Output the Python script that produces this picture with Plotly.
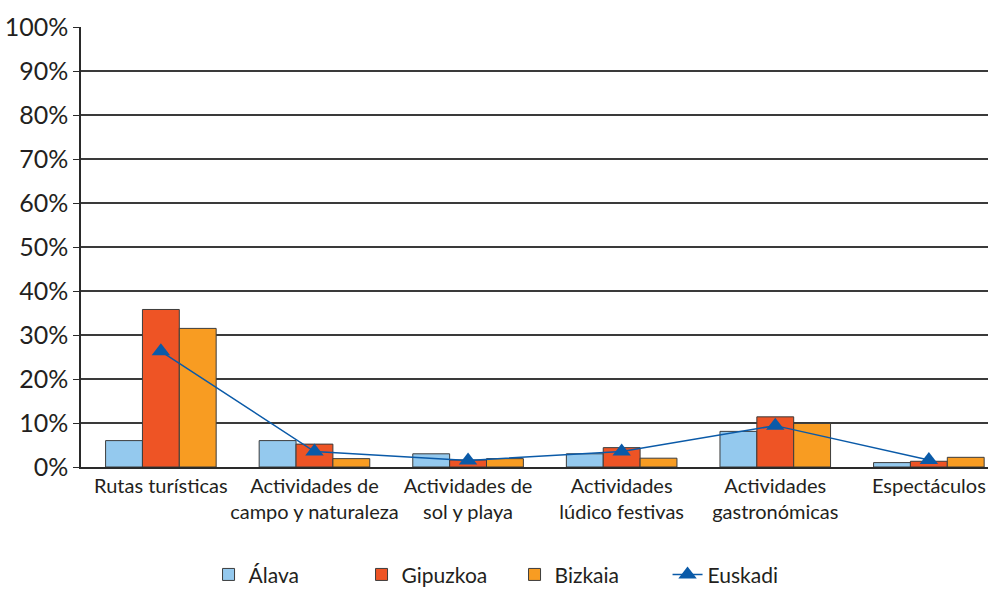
import plotly.graph_objects as go

categories = ["Rutas turísticas", "Actividades de<br>campo y naturaleza", "Actividades de<br>sol y playa",
              "Actividades<br>lúdico festivas", "Actividades<br>gastronómicas", "Espectáculos"]
alava = [6.0, 6.0, 3.0, 3.0, 8.1, 1.0]
gipuzkoa = [35.8, 5.2, 1.6, 4.4, 11.4, 1.3]
bizkaia = [31.5, 1.9, 1.9, 2.0, 9.9, 2.2]
euskadi = [26.3, 3.5, 1.5, 3.5, 9.4, 1.6]
y_ticks = [0, 10, 20, 30, 40, 50, 60, 70, 80, 90, 100]
y_tick_labels = ["0%", "10%", "20%", "30%", "40%", "50%", "60%", "70%", "80%", "90%", "100%"]

text_color = "#231f20"
outline = dict(color="#3c3c3c", width=1)

fig = go.Figure()
fig.add_trace(go.Bar(name="Álava", x=categories, y=alava, marker=dict(color="#94c9ee", line=outline)))
fig.add_trace(go.Bar(name="Gipuzkoa", x=categories, y=gipuzkoa, marker=dict(color="#ee5425", line=outline)))
fig.add_trace(go.Bar(name="Bizkaia", x=categories, y=bizkaia, marker=dict(color="#f89c22", line=outline)))
fig.add_trace(go.Scatter(name="Euskadi", x=categories, y=euskadi, mode="lines+markers",
                         line=dict(color="#0a5aa8", width=1.5),
                         marker=dict(symbol="triangle-up", size=16, color="#0a5aa8")))

fig.update_layout(
    width=988, height=589, autosize=False,
    margin=dict(l=81, r=0, t=27, b=122, autoexpand=False),
    plot_bgcolor="white", paper_bgcolor="white",
    barmode="group", bargap=0.28, bargroupgap=0,
    font=dict(family="Lato", color=text_color),
    showlegend=True,
    legend=dict(orientation="h", x=0.478, xanchor="center", y=-0.245, yanchor="middle",
                font=dict(size=21, color=text_color), entrywidth=108, entrywidthmode="pixels",
                traceorder="normal"),
    xaxis=dict(range=[-0.52, 5.385], showgrid=False, showline=True, linecolor="#2a2a2a", linewidth=1.5,
               ticks="", tickfont=dict(size=20, color=text_color), zeroline=False, automargin=False),
    yaxis=dict(range=[0, 100], tickmode="array", tickvals=y_ticks, ticktext=y_tick_labels,
               showgrid=True, gridcolor="#3a3a3a",
               gridwidth=1.5, showline=True, linecolor="#2a2a2a", linewidth=1.5, ticks="outside",
               ticklen=6, tickcolor="#2a2a2a", tickfont=dict(size=25, color=text_color), zeroline=False,
               automargin=False),
)

fig.write_html("out.html", config={"displayModeBar": False},
               post_script="document.body.style.margin='0px';")
